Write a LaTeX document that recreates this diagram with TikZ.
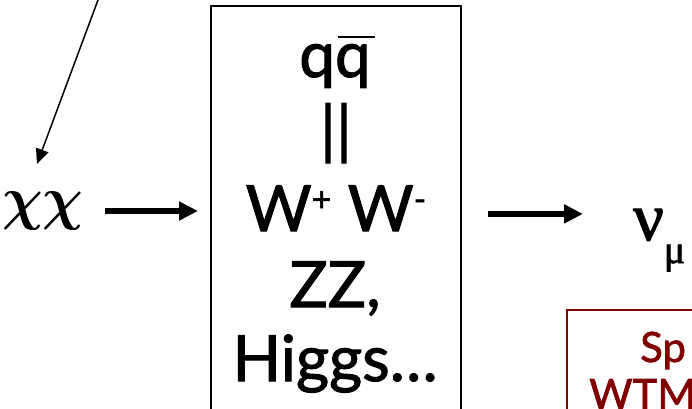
\documentclass[tikz,border=0pt]{standalone}
\usepackage{graphicx}
\usepackage{fontspec}
\setmainfont{Lato}[FakeBold=1.6]
\newfontfamily\greekfont{Liberation Serif}[FakeBold=1.8]
\usetikzlibrary{arrows.meta}
\definecolor{boxred}{RGB}{128,0,0}
\newcommand{\heavychi}{\scalebox{5.7}[6]{\mathversion{bold}$\chi\chi$}}

\begin{document}
\begin{tikzpicture}[x=1bp,y=-1bp,
  boxtext/.style={font=\fontsize{64}{77}\selectfont, inner sep=0pt, anchor=base},
  redtext/.style={font=\fontsize{42}{50}\selectfont, text=boxred, inner sep=0pt, anchor=base west},
  bigarrow/.style={line width=6bp, -{Triangle[length=19bp,width=18bp]}},
  thinarrow/.style={line width=1.5bp, -{Triangle[length=15bp,width=13bp]}}]
\useasboundingbox (0,0) rectangle (692,408);
\clip (0,0) rectangle (692,408);

% channel box
\node[draw, line width=1.8bp, minimum width=250bp, minimum height=416bp,
      anchor=north west, inner sep=0pt] (box) at (210,5) {};
\node[boxtext] (qq) at (335,77) {qq};
\draw[line width=2.5bp] (338,37) -- (375,37);
\node[boxtext] (bars) at (336,152) {||};
\node[boxtext] (ww) at (336,231)
  {W\raisebox{20bp}{\fontsize{34}{34}\selectfont +} W\raisebox{20bp}{\fontsize{34}{34}\selectfont -}};
\node[boxtext] (zz) at (335,307) {ZZ,};
\node[boxtext] (higgs) at (335,381) {Higgs…};

% initial state and products
\node[inner sep=0pt] (chi) at (43,211) {\heavychi};
\node[font=\greekfont\fontsize{68}{70}\selectfont, inner sep=0pt, anchor=base west] (nu) at (633,240)
  {ν\raisebox{-23bp}{\fontsize{40}{40}\selectfont μ}};

% connectors
\coordinate (feed) at (100.6,-7);
\coordinate (chitop) at (37,164);
\draw[thinarrow] (feed) -- (chitop);
\draw[bigarrow, shorten <=21bp, shorten >=12bp] (chi.east) -- (chi.east -| box.west);
\draw[bigarrow, shorten <=26bp, shorten >=50bp] (box.east) -- (box.east -| nu.west);

% red panel
\node[draw=boxred, line width=1.5bp, minimum width=200bp, minimum height=150bp,
      anchor=north west, inner sep=0pt] (panel) at (566,309) {};
\node[redtext] (sp) at (640,362) {Sp};
\node[redtext] (wtm) at (589,409) {WTM};
\end{tikzpicture}
\end{document}
